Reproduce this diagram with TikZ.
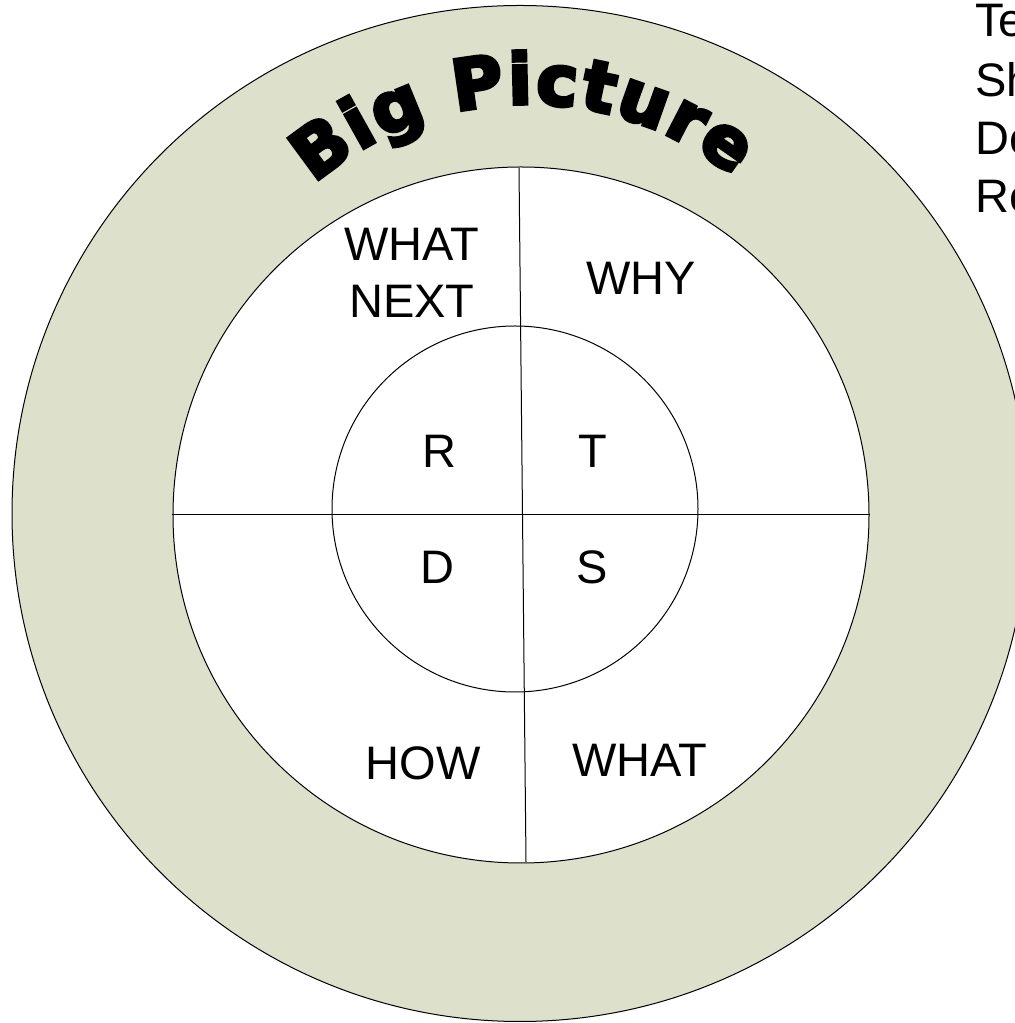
\documentclass[tikz,border=0pt]{standalone}
\usepackage{fontspec}
\setmainfont{Liberation Sans}
\newfontfamily\bigpic{DejaVu Sans}[BoldFeatures={FakeBold=5}]
\usetikzlibrary{decorations.text}
\definecolor{ringfill}{RGB}{221,225,204}
\begin{document}
\begin{tikzpicture}[x=0.5pt,y=0.5pt,
  ring/.style={draw=black, line width=0.5pt},
  lbl/.style={inner sep=0pt, font=\fontsize{23.5pt}{28.5pt}\selectfont, align=center}]
\useasboundingbox (0,0) rectangle (1015,1023);
\coordinate (oc) at (520,509.5);
\coordinate (mc) at (521,508);
\coordinate (ic) at (515,514);
\draw[ring, fill=ringfill] (oc) circle[radius=254pt];
\draw[ring, fill=white] (mc) circle[radius=174pt];
\draw[ring] (ic) circle[radius=91.5pt];
\coordinate (vt) at (519,855);
\coordinate (vb) at (526,161);
\coordinate (hl) at (172,508);
\coordinate (hr) at (870,508);
\draw[ring] (vt) -- (vb);
\draw[ring] (hl) -- (hr);
\coordinate (tc) at (528,593);
\path[decorate, decoration={text along path,
   text={|\bigpic\bfseries\fontsize{35pt}{35pt}\selectfont|Big Picture},
   text align=fit to path}]
   ([shift={(131:163pt)}]tc) arc[start angle=131, end angle=51, radius=163pt];
\node[lbl] (whatnext) at (412,750) {WHAT\\NEXT};
\node[lbl] (why) at (641,745) {WHY};
\node[lbl] (r) at (439,572) {R};
\node[lbl] (t) at (593,572) {T};
\node[lbl] (d) at (437,456) {D};
\node[lbl] (s) at (592,456) {S};
\node[lbl] (how) at (423,260) {HOW};
\node[lbl] (what) at (640,263) {WHAT};
\node[lbl, anchor=base west] (te) at (975,986) {Te};
\node[lbl, anchor=base west] (sh) at (975,926) {Sh};
\node[lbl, anchor=base west] (de) at (975,868) {De};
\node[lbl, anchor=base west] (re) at (975,810) {Re};
\end{tikzpicture}
\end{document}
